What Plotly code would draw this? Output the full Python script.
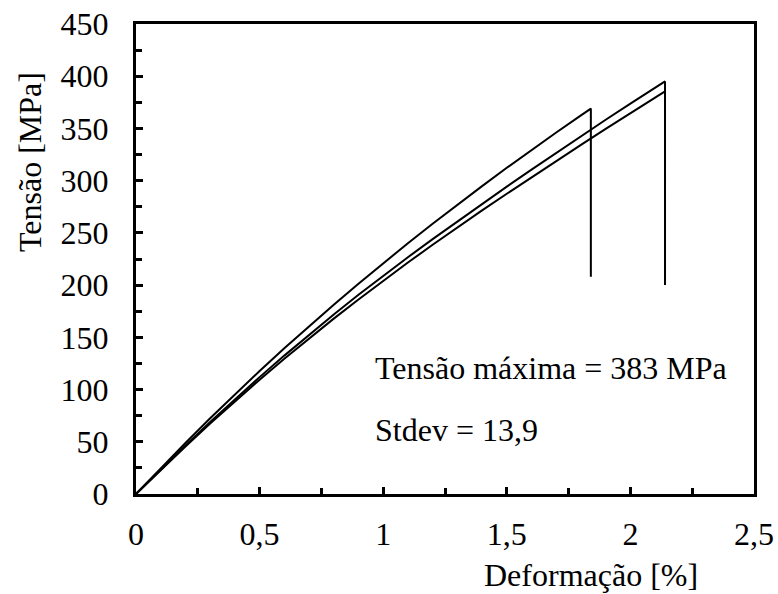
import plotly.graph_objects as go

# Data
x1 = [0, 0.1, 0.2, 0.3, 0.4, 0.5, 0.6, 0.7, 0.8, 0.9, 1.0, 1.1, 1.2, 1.3, 1.4, 1.5, 1.6, 1.7, 1.8, 1.84, 1.84]
y1 = [0, 24.8, 49.0, 72.6, 95.5, 117.8, 139.5, 160.7, 181.3, 201.4, 221.0, 240.1, 258.8, 277.0, 294.8, 312.3, 329.4, 346.1, 362.5, 369, 208]

x2 = [0, 0.1, 0.2, 0.3, 0.4, 0.5, 0.6, 0.7, 0.8, 0.9, 1.0, 1.1, 1.2, 1.3, 1.4, 1.5, 1.6, 1.7, 1.8, 1.9, 2.0, 2.1, 2.14, 2.14]
y2 = [0, 23.5, 46.5, 68.9, 90.7, 111.9, 132.5, 152.5, 171.9, 190.7, 209.0, 226.7, 244.0, 261.0, 277.8, 294.3, 310.6, 326.7, 342.6, 358.3, 373.8, 389.1, 395, 200]

x3 = [0, 0.1, 0.2, 0.3, 0.4, 0.5, 0.6, 0.7, 0.8, 0.9, 1.0, 1.1, 1.2, 1.3, 1.4, 1.5, 1.6, 1.7, 1.8, 1.9, 2.0, 2.1, 2.14, 2.14]
y3 = [0, 23.0, 45.5, 67.4, 88.7, 109.4, 129.5, 149.0, 167.9, 186.3, 204.2, 221.6, 238.6, 255.2, 271.5, 287.5, 303.3, 318.9, 334.3, 349.6, 364.8, 379.9, 385.5, 205]

x_ticks = [0, 0.5, 1, 1.5, 2, 2.5]
x_tick_labels = ["0", "0,5", "1", "1,5", "2", "2,5"]
y_ticks = [0, 50, 100, 150, 200, 250, 300, 350, 400, 450]

text_max = "Tensão máxima = 383 MPa"
text_std = "Stdev = 13,9"

FONT = "Liberation Serif"
FS = 32

fig = go.Figure()
for xs, ys in [(x1, y1), (x2, y2), (x3, y3)]:
    fig.add_trace(go.Scatter(x=xs, y=ys, mode="lines",
                             line=dict(color="black", width=2),
                             showlegend=False, hoverinfo="skip"))

fig.update_xaxes(range=[0, 2.5], tickvals=x_ticks, ticktext=x_tick_labels,
                 ticks="inside", ticklen=7, tickwidth=2.5, tickcolor="black",
                 minor=dict(dtick=0.25, ticks="inside", ticklen=6, tickwidth=2.5, tickcolor="black", showgrid=False),
                 showline=True, linecolor="black", linewidth=3, mirror=True,
                 showgrid=False, zeroline=False, ticklabelstandoff=10, automargin=False,
                 tickfont=dict(family=FONT, size=FS, color="black"))
fig.update_yaxes(range=[0, 450], tickvals=y_ticks,
                 ticks="inside", ticklen=7, tickwidth=2.5, tickcolor="black",
                 minor=dict(dtick=25, ticks="inside", ticklen=6, tickwidth=2.5, tickcolor="black", showgrid=False),
                 showline=True, linecolor="black", linewidth=3, mirror=True,
                 showgrid=False, zeroline=False, ticklabelstandoff=18, automargin=False,
                 tickfont=dict(family=FONT, size=FS, color="black"))

fig.add_annotation(x=0.957, y=121, xref="x", yref="y", text=text_max, showarrow=False,
                   xanchor="left", yanchor="middle", font=dict(family=FONT, size=FS, color="black"))
fig.add_annotation(x=0.957, y=61, xref="x", yref="y", text=text_std, showarrow=False,
                   xanchor="left", yanchor="middle", font=dict(family=FONT, size=FS, color="black"))

W, H = 778, 594
L, R, T, B = 136, 24, 24, 100
pw, ph = W - L - R, H - T - B
fig.add_annotation(x=(591 - L) / pw, y=1 - (575 - T) / ph, xref="paper", yref="paper", text="Deformação [%]",
                   showarrow=False, xanchor="center", yanchor="middle",
                   font=dict(family=FONT, size=FS, color="black"))
fig.add_annotation(x=(30 - L) / pw, y=1 - (162 - T) / ph, xref="paper", yref="paper", text="Tensão [MPa]",
                   showarrow=False, xanchor="center", yanchor="middle", textangle=-90,
                   font=dict(family=FONT, size=FS, color="black"))

fig.update_layout(width=W, height=H, margin=dict(l=L, r=R, t=T, b=B, autoexpand=False),
                  plot_bgcolor="white", paper_bgcolor="white")

fig.write_html("out.html")
